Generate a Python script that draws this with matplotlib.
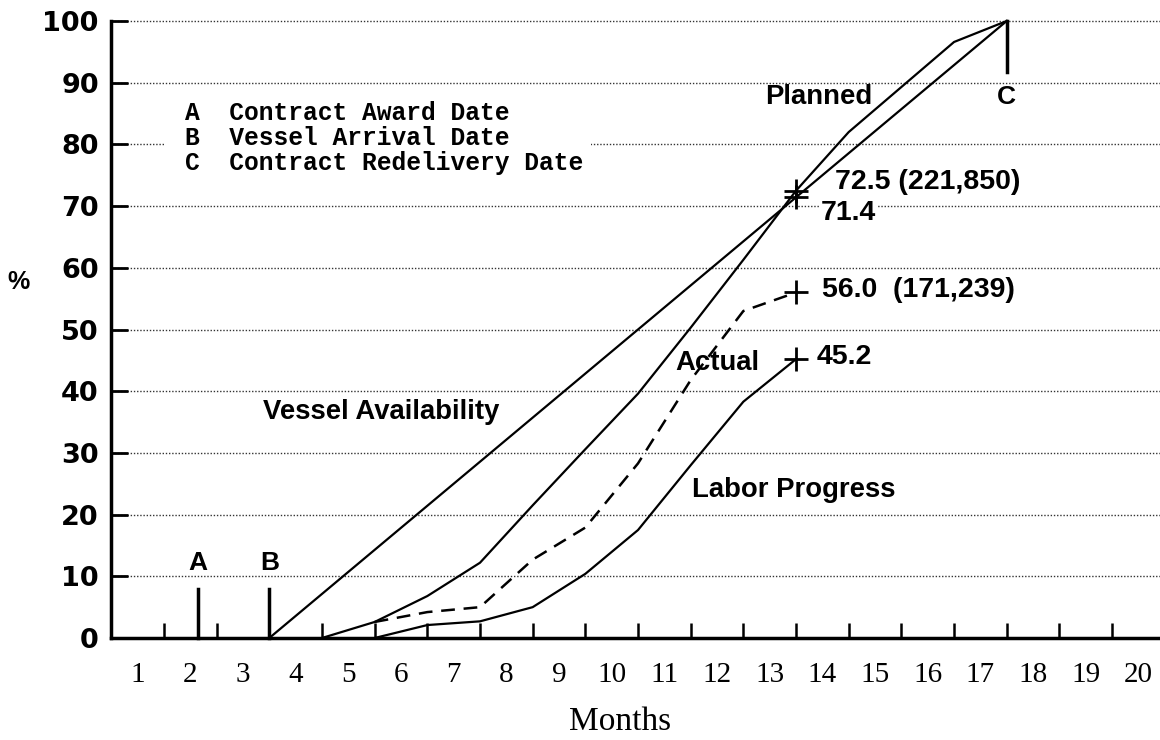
"""
Ship repair progress chart: vessel availability vs planned / actual / labor progress.
"""
import matplotlib
matplotlib.use("Agg")
import matplotlib.pyplot as plt
from matplotlib.patches import Rectangle

SANS = "Liberation Sans"
WIDE = "DejaVu Sans"
SERIF = "Liberation Serif"
MONO = "Liberation Mono"

# month labels along the bottom, tick marks sit on the month boundaries
months = list(range(1, 21))
boundaries = [1.5, 2.5, 3.5, 4.5, 5.5, 6.5, 7.5, 8.5, 9.5, 10.5,
              11.5, 12.5, 13.5, 14.5, 15.5, 16.5, 17.5, 18.5, 19.5]
percent_ticks = [0, 10, 20, 30, 40, 50, 60, 70, 80, 90, 100]

# key dates (A, B, C)
event_names = ["A", "B", "C"]
event_months = [2.15, 3.5, 17.5]
event_descriptions = ["Contract Award Date", "Vessel Arrival Date", "Contract Redelivery Date"]

# curves
vessel_x = [3.5, 17.5]
vessel_y = [0, 100]

planned_x = [4.5, 5.5, 6.5, 7.5, 8.5, 9.5, 10.5, 11.5, 12.5, 13.5, 14.5, 15.5, 16.5, 17.5]
planned_y = [0, 2.6, 6.8, 12.2, 21.5, 30.6, 39.6, 50.3, 61.3, 72.5, 82.0, 89.3, 96.6, 100]

actual_x = [5.5, 6.5, 7.5, 8.5, 9.5, 10.5, 11.5, 12.5, 13.5]
actual_y = [2.6, 4.2, 5.0, 12.7, 17.9, 28.3, 41.8, 53.0, 56.0]

labor_x = [5.5, 6.5, 7.5, 8.5, 9.5, 10.5, 11.5, 12.5, 13.5]
labor_y = [0, 2.1, 2.7, 5.0, 10.4, 17.5, 28.0, 38.3, 45.2]

# status at month 13.5 (crosses) and their labels
status_month = 13.5
status_values = [72.5, 71.4, 56.0, 45.2]
status_labels = ["72.5 (221,850)", "71.4", "56.0  (171,239)", "45.2"]


def setupAxes(fig):
    ax = fig.add_axes([111.3 / 1160, 102 / 740, (1160 - 111.3) / 1160, 617 / 740])
    ax.set_xlim(0.5, 20.41)
    ax.set_ylim(0, 100)

    for side in ["top", "right"]:
        ax.spines[side].set_visible(False)
    for side in ["left", "bottom"]:
        ax.spines[side].set_linewidth(2.5)

    # dotted horizontal grid
    for y in percent_ticks[1:]:
        ax.axhline(y, color="#333333", lw=1.0, ls=(0, (1, 1.3)), zorder=0.5, clip_on=False)

    ax.set_yticks(percent_ticks)
    ax.tick_params(axis="y", direction="in", length=12, width=2, pad=9, labelsize=19.5)
    for lbl in ax.get_yticklabels():
        lbl.set_fontfamily(WIDE)
        lbl.set_fontweight("bold")

    ax.set_xticks(months)
    ax.set_xticks(boundaries, minor=True)
    ax.tick_params(axis="x", which="major", length=0, pad=17, labelsize=21)
    ax.tick_params(axis="x", which="minor", direction="in", length=11, width=1.8)
    for lbl in ax.get_xticklabels():
        lbl.set_fontfamily(SERIF)
    return ax


def drawCurves(ax):
    ax.plot(vessel_x, vessel_y, color="black", lw=1.6, clip_on=False, zorder=3)
    ax.plot(planned_x, planned_y, color="black", lw=1.6, clip_on=False, zorder=3)
    ax.plot(labor_x, labor_y, color="black", lw=1.6, zorder=3)
    ax.plot(actual_x, actual_y, color="black", lw=1.8, ls=(0, (5.5, 3.5)), zorder=3)

    # crosses at the status date
    for v in status_values:
        ax.plot(status_month, v, marker="+", ms=17, mew=2, color="black", zorder=4)


def drawEvents(ax):
    # A and B stand up from the axis, C hangs from the top
    for name, m in zip(event_names, event_months):
        if name == "C":
            ax.plot([m, m], [100, 91.7], color="black", lw=2.5, clip_on=False, zorder=3)
            ax.text(m, 87.7, name, ha="center", va="center", fontsize=19,
                    fontfamily=SANS, fontweight="bold")
        else:
            ax.plot([m, m], [0, 7.9], color="black", lw=2.5, clip_on=False, zorder=3)
            ax.text(m, 12.2, name, ha="center", va="center", fontsize=19,
                    fontfamily=SANS, fontweight="bold")

    # key block, white box hides the grid behind it
    ax.add_patch(Rectangle((1.5, 74.5), 8.1, 13.2, facecolor="white", edgecolor="none", zorder=1))
    for name, desc, y in zip(event_names, event_descriptions, [85.1, 81.0, 77.0]):
        ax.text(1.9, y, name + "  " + desc, ha="left", va="center", fontsize=17.7,
                fontfamily=MONO, fontweight="bold", zorder=3)


def drawLabels(ax, fig):
    words = {"Planned": (12.91, 87.7), "Vessel Availability": (3.38, 36.6),
             "Actual": (11.2, 44.6), "Labor Progress": (11.52, 24.0)}
    for txt, (x, y) in words.items():
        ax.text(x, y, txt, ha="left", va="center", fontsize=19.8,
                fontfamily=SANS, fontweight="bold", zorder=2)

    label_pos = [(14.24, 73.9), (13.96, 68.9), (14.0, 56.4), (13.9, 45.5)]
    for txt, (x, y) in zip(status_labels, label_pos):
        ax.text(x, y, txt, ha="left", va="center", fontsize=20.5, fontfamily=SANS,
                fontweight="bold", zorder=2,
                bbox=dict(facecolor="white", edgecolor="none", pad=1))

    fig.text(18 / 1160, 1 - 282 / 740, "%", ha="center", va="center", fontsize=18,
             fontfamily=SANS, fontweight="bold")
    fig.text(620 / 1160, 1 - 722 / 740, "Months", ha="center", va="center", fontsize=24,
             fontfamily=SERIF)


fig = plt.figure(figsize=(11.6, 7.4), dpi=100)
ax = setupAxes(fig)
drawCurves(ax)
drawEvents(ax)
drawLabels(ax, fig)
fig.savefig("out.png", dpi=100)
